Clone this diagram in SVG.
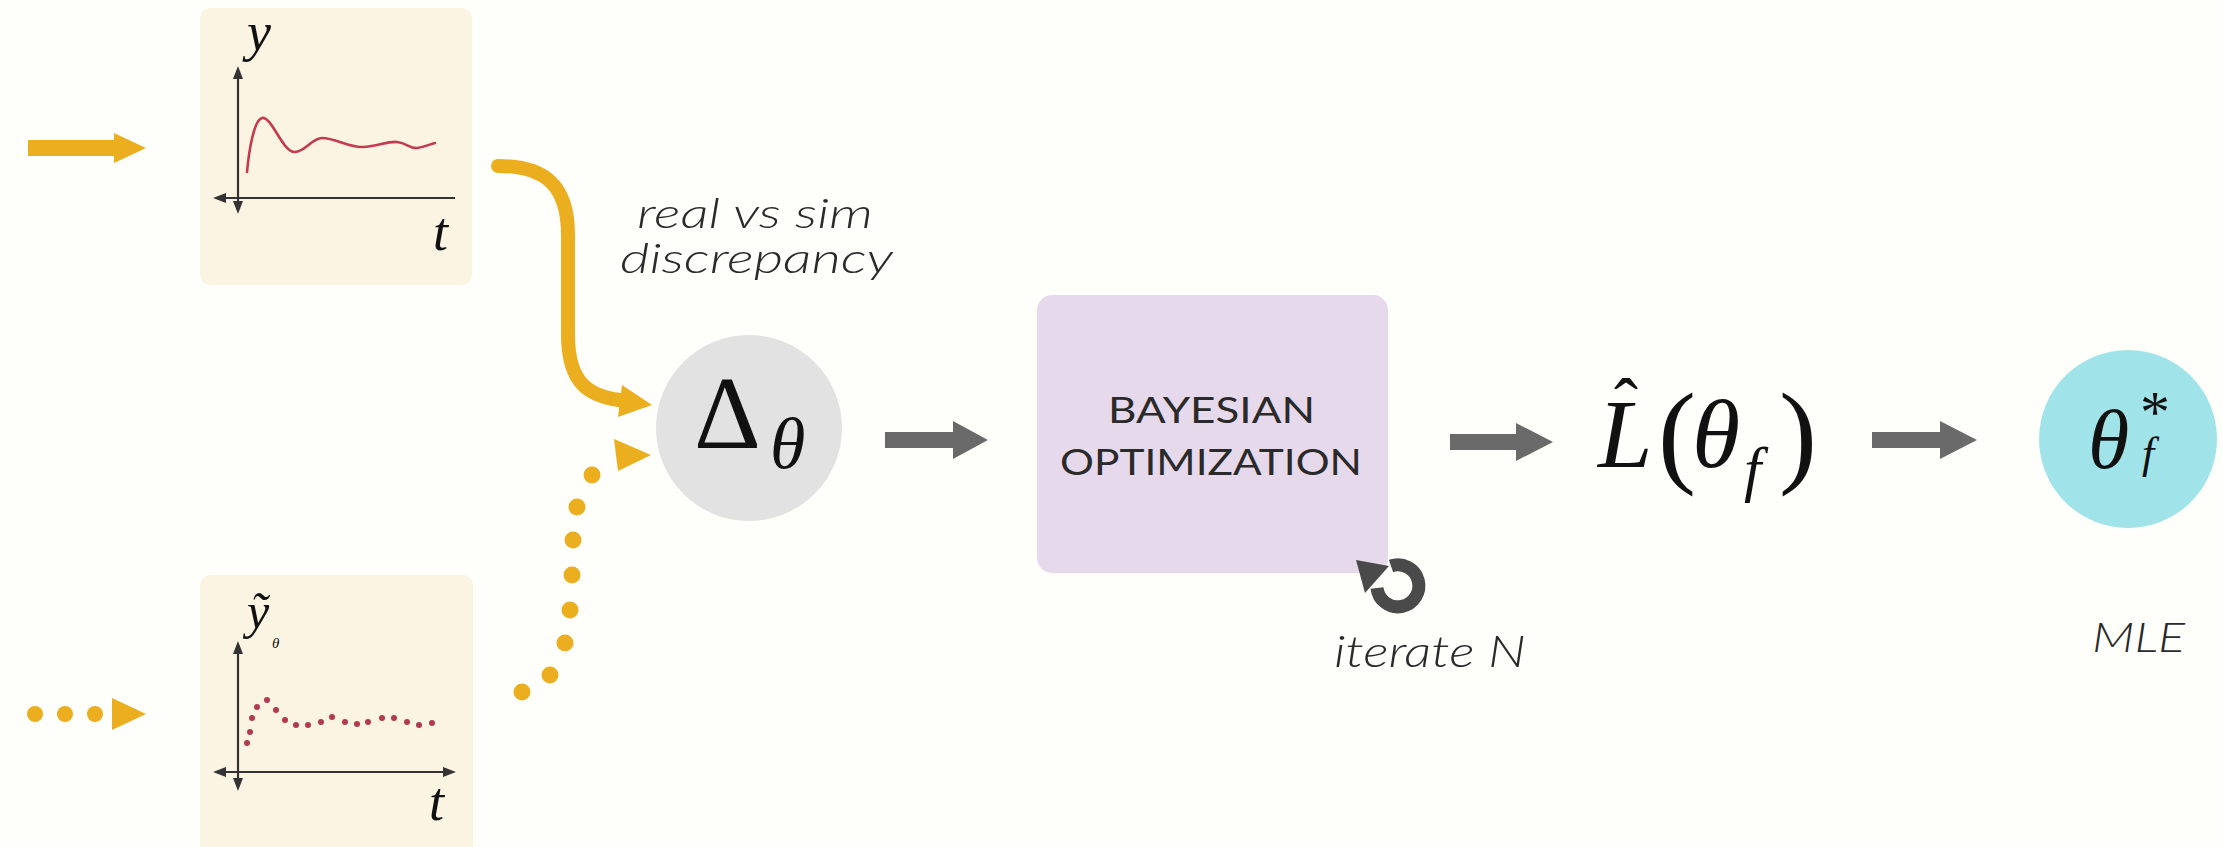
<svg xmlns="http://www.w3.org/2000/svg" width="2223" height="847" viewBox="0 0 2223 847">
<style>
.bg{fill:#FEFEFB}
.plot{fill:#FCF4E3}
.axis{stroke:#333;stroke-width:2.2;fill:none}
.axhead{fill:#333}
.math{font-family:"Liberation Serif","Times New Roman",serif;fill:#111}
.it{font-style:italic}
.lbl{font-family:Lato,"Open Sans",sans-serif;font-style:italic;font-weight:300;fill:#2a2a2a}
.cap{font-family:Lato,"Open Sans",sans-serif;fill:#2a2a2a}
.yel{fill:#EAAE1F}
.gray{fill:#6A6A6A}
.redline{stroke:#C63A50;stroke-width:2.6;fill:none;stroke-linecap:round}
.reddot{fill:#B23A4C}
</style>
<rect class="bg" x="0" y="0" width="2223" height="847"/>

<g id="connectors">
  <path class="yel" d="M28 140 H114 V133 L146 148 L114 163 V156 H28 Z"/>
  <circle class="yel" cx="35" cy="714" r="8"/>
  <circle class="yel" cx="65" cy="714" r="8"/>
  <circle class="yel" cx="95" cy="714" r="8"/>
  <polygon class="yel" points="112,698 112,730 146,714"/>
  <path d="M498 166 C545 166 568 185 568 235 L568 335 C568 385 590 398 628 401" fill="none" stroke="#EAAE1F" stroke-width="14" stroke-linecap="round"/>
  <polygon class="yel" points="622,385 618,417 652,405"/>
  <circle class="yel" cx="522" cy="692" r="8.5"/>
  <circle class="yel" cx="550" cy="675" r="8.5"/>
  <circle class="yel" cx="565" cy="643" r="8.5"/>
  <circle class="yel" cx="570" cy="610" r="8.5"/>
  <circle class="yel" cx="572" cy="575" r="8.5"/>
  <circle class="yel" cx="573" cy="540" r="8.5"/>
  <circle class="yel" cx="577" cy="507" r="8.5"/>
  <circle class="yel" cx="592" cy="475" r="8.5"/>
  <polygon class="yel" points="614,439 618,471 651,455"/>
  <path class="gray" d="M885 432 H953 V421 L988 440 L953 459 V448 H885 Z"/>
  <path class="gray" d="M1450 434 H1516 V423 L1553 442 L1516 461 V450 H1450 Z"/>
  <path class="gray" d="M1872 432 H1940 V421 L1977 440 L1940 459 V448 H1872 Z"/>
</g>

<g id="plot-real">
  <rect class="plot" x="200" y="8" width="272" height="277" rx="10"/>
  <line class="axis" x1="238" y1="72" x2="238" y2="208"/>
  <line class="axis" x1="220" y1="198" x2="455" y2="198"/>
  <polygon class="axhead" points="238,66 233,79 243,79"/>
  <polygon class="axhead" points="238,214 233,201 243,201"/>
  <polygon class="axhead" points="213,198 226,193 226,203"/>
  <path class="redline" d="M247 172 C249 150 254 120 262 118 C272 116 282 152 295 152 C305 152 312 138 322 138 C335 138 350 148 363 147 C378 146 388 141 397 142 C407 143 410 149 417 148 C425 147 430 144 435 143"/>
  <text class="math it" x="247" y="50" font-size="54">y</text>
  <text class="math it" x="433" y="250" font-size="54">t</text>
</g>

<g id="plot-sim">
  <rect class="plot" x="200" y="575" width="273" height="290" rx="10"/>
  <line class="axis" x1="238" y1="647" x2="238" y2="785"/>
  <line class="axis" x1="220" y1="772" x2="450" y2="772"/>
  <polygon class="axhead" points="238,641 233,654 243,654"/>
  <polygon class="axhead" points="238,791 233,778 243,778"/>
  <polygon class="axhead" points="213,772 226,767 226,777"/>
  <polygon class="axhead" points="456,772 443,767 443,777"/>
  <g class="reddot">
    <circle cx="247" cy="743" r="3"/><circle cx="250" cy="732" r="3"/><circle cx="252" cy="718" r="3"/>
    <circle cx="257" cy="707" r="3"/><circle cx="267" cy="700" r="3"/><circle cx="276" cy="710" r="3"/>
    <circle cx="285" cy="720" r="3"/><circle cx="296" cy="725" r="3"/><circle cx="308" cy="725" r="3"/>
    <circle cx="321" cy="722" r="3"/><circle cx="332" cy="717" r="3"/><circle cx="345" cy="722" r="3"/>
    <circle cx="357" cy="724" r="3"/><circle cx="368" cy="722" r="3"/><circle cx="382" cy="718" r="3"/>
    <circle cx="394" cy="718" r="3"/><circle cx="407" cy="722" r="3"/><circle cx="419" cy="725" r="3"/>
    <circle cx="432" cy="723" r="3"/>
  </g>
  <text class="math it" x="247" y="628" font-size="50">ỹ<tspan x="272" y="648" font-size="15">θ</tspan></text>
  <text class="math it" x="429" y="820" font-size="54">t</text>
</g>

<g id="label-discrepancy">
  <text class="lbl" x="637" y="228" font-size="42" textLength="236" lengthAdjust="spacingAndGlyphs">real vs sim</text>
  <text class="lbl" x="620" y="273" font-size="42" textLength="273" lengthAdjust="spacingAndGlyphs">discrepancy</text>
</g>

<g id="node-delta">
  <circle cx="749" cy="428" r="93" fill="#E2E2E2"/>
  <text class="math" x="694" y="448" font-size="104">Δ<tspan class="it" x="770" y="468" font-size="72">θ</tspan></text>
</g>

<g id="node-bayes">
  <rect x="1037" y="295" width="351" height="278" rx="15" fill="#E6D9EC"/>
  <text class="cap" x="1108" y="423" font-size="37" textLength="207" lengthAdjust="spacingAndGlyphs">BAYESIAN</text>
  <text class="cap" x="1060" y="475" font-size="37" textLength="302" lengthAdjust="spacingAndGlyphs">OPTIMIZATION</text>
</g>

<g id="loop-iterate">
  <path d="M1391 566 A21 21 0 1 1 1377 588" fill="none" stroke="#4A4A4A" stroke-width="13"/>
  <polygon points="1356,560 1389,566 1365,593" fill="#4A4A4A"/>
  <text class="lbl" x="1334" y="667" font-size="44" textLength="192" lengthAdjust="spacingAndGlyphs">iterate N</text>
</g>

<g id="node-likelihood">
  <text class="math it" x="1598" y="467" font-size="98">L<tspan class="math" font-style="normal" x="1614" y="428" font-size="72">ˆ</tspan><tspan font-style="normal" x="1658" y="472" font-size="114">(</tspan><tspan x="1692" y="467" font-size="98">θ</tspan><tspan x="1744" y="490" font-size="62">f</tspan><tspan font-style="normal" x="1779" y="472" font-size="114">)</tspan></text>
</g>

<g id="node-mle">
  <circle cx="2128" cy="439" r="89" fill="#A0E4EA"/>
  <text class="math it" x="2088" y="468" font-size="84">θ<tspan font-style="normal" x="2140" y="432" font-size="60">*</tspan><tspan x="2142" y="468" font-size="44">f</tspan></text>
  <text class="lbl" x="2092" y="652" font-size="42" textLength="93" lengthAdjust="spacingAndGlyphs">MLE</text>
</g>
</svg>
